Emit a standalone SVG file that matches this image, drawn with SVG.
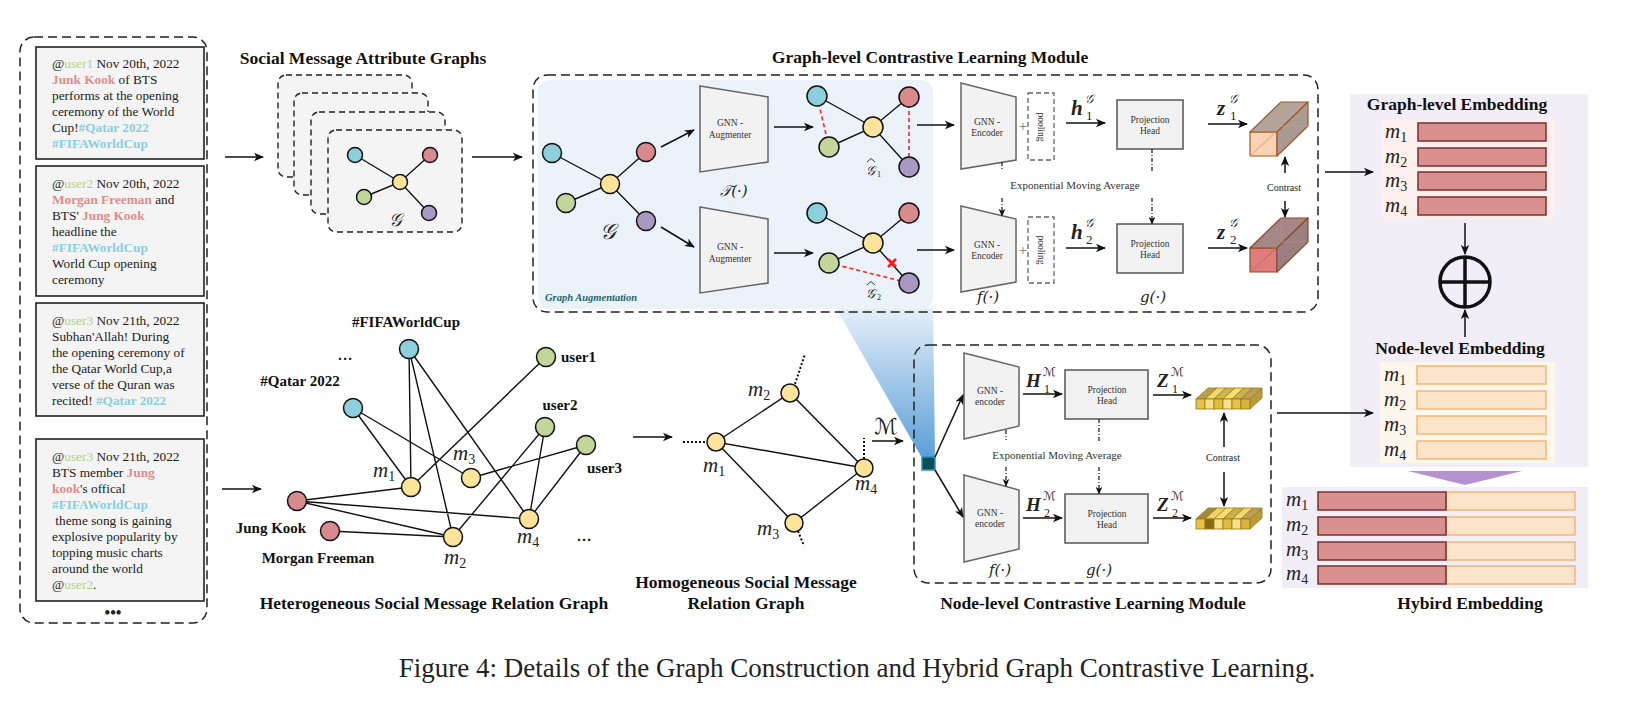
<svg xmlns="http://www.w3.org/2000/svg" width="1648" height="703" viewBox="0 0 1648 703">
<style>
.t{font-family:"Liberation Serif","Times New Roman",serif;fill:#222}
.tw{font-family:"Liberation Serif","Times New Roman",serif;font-size:13.3px;fill:#222}
.u{fill:#b6cf8d}
.p{fill:#e08c8c;font-weight:bold}
.h{fill:#8acfe0;font-weight:bold}
.ttl{font-family:"Liberation Serif","Times New Roman",serif;font-size:17.5px;font-weight:bold;fill:#111}
.lb{font-family:"Liberation Serif","Times New Roman",serif;font-size:15px;font-weight:bold;fill:#111}
.sm{font-family:"Liberation Serif","Times New Roman",serif;font-size:9.5px;fill:#333}
.ema{font-family:"Liberation Serif","Times New Roman",serif;font-size:11px;fill:#333}
.mi{font-family:"Liberation Serif","Times New Roman",serif;font-style:italic;font-size:21px;fill:#222}
.scr{font-family:"DejaVu Serif","DejaVu Sans","Noto Sans",serif;fill:#222}
.box{fill:#f4f4f4;stroke:#222;stroke-width:1.6}
.dsh{fill:none;stroke:#222;stroke-width:1.5;stroke-dasharray:9 5}
.card{fill:#f4f4f4;stroke:#222;stroke-width:1.4;stroke-dasharray:6 4}
.e{stroke:#111;stroke-width:1.4;fill:none}
.rd{stroke:#ff2020;stroke-width:1.6;stroke-dasharray:4 3;fill:none}
.n{stroke:#111;stroke-width:1.5}
.cb{fill:#8ecfdc}.cr{fill:#d98a8e}.cy{fill:#fde49a}.cg{fill:#c2d69b}.cp{fill:#a899c2}
.trap{fill:#f2f2f2;stroke:#666;stroke-width:1.5}
.ph{fill:#f2f2f2;stroke:#555;stroke-width:1.5}
.pool{fill:none;stroke:#666;stroke-width:1.3;stroke-dasharray:5 3}
.a{stroke:#111;stroke-width:1.5;fill:none;marker-end:url(#ah)}
.dd{stroke:#111;stroke-width:1.2;fill:none;stroke-dasharray:4 2 1 2}
.dda{stroke:#111;stroke-width:1.2;fill:none;stroke-dasharray:4 2 1 2;marker-end:url(#ahs)}
.gb{fill:#d9918f;stroke:#7b2e2e;stroke-width:1.5}
.nb{fill:#fce4ca;stroke:#f4b678;stroke-width:1.5}
.dot{stroke:#111;stroke-width:2;stroke-dasharray:2 2;fill:none}
.hat{stroke:#222;stroke-width:0.9;fill:none}
</style>
<defs>
<marker id="ah" viewBox="0 0 10 10" refX="9" refY="5" markerWidth="10" markerHeight="10" markerUnits="userSpaceOnUse" orient="auto">
<path d="M0,0.8 L10,5 L0,9.2 L2.6,5 z" fill="#111"/>
</marker>
<marker id="ahs" viewBox="0 0 10 10" refX="9" refY="5" markerWidth="8" markerHeight="8" markerUnits="userSpaceOnUse" orient="auto">
<path d="M0,0.8 L10,5 L0,9.2 L2.6,5 z" fill="#111"/>
</marker>
<linearGradient id="wedge" x1="0" y1="0" x2="0" y2="1">
<stop offset="0" stop-color="#e6eff9"/>
<stop offset="1" stop-color="#5a9fd8"/>
</linearGradient>
</defs>
<rect width="1648" height="703" fill="#ffffff"/>

<!-- Left panel of tweets -->
<g id="tweets">
<rect class="dsh" x="20" y="37" width="187" height="586" rx="14"/>
<rect class="box" x="36" y="47" width="168" height="112"/>
<text class="tw" x="52" y="68">@<tspan class="u">user1</tspan> Nov 20th, 2022</text>
<text class="tw" x="52" y="84"><tspan class="p">Junk Kook</tspan> of BTS</text>
<text class="tw" x="52" y="100">performs at the opening</text>
<text class="tw" x="52" y="116">ceremony of the World</text>
<text class="tw" x="52" y="132">Cup!<tspan class="h">#Qatar 2022</tspan></text>
<text class="tw" x="52" y="148"><tspan class="h">#FIFAWorldCup</tspan></text>

<rect class="box" x="36" y="166" width="168" height="130"/>
<text class="tw" x="52" y="188">@<tspan class="u">user2</tspan> Nov 20th, 2022</text>
<text class="tw" x="52" y="204"><tspan class="p">Morgan Freeman</tspan> and</text>
<text class="tw" x="52" y="220">BTS' <tspan class="p">Jung Kook</tspan></text>
<text class="tw" x="52" y="236">headline the</text>
<text class="tw" x="52" y="252"><tspan class="h">#FIFAWorldCup</tspan></text>
<text class="tw" x="52" y="268">World Cup opening</text>
<text class="tw" x="52" y="284">ceremony</text>

<rect class="box" x="36" y="303" width="168" height="113"/>
<text class="tw" x="52" y="325">@<tspan class="u">user3</tspan> Nov 21th, 2022</text>
<text class="tw" x="52" y="341">Subhan'Allah! During</text>
<text class="tw" x="52" y="357">the opening ceremony of</text>
<text class="tw" x="52" y="373">the Qatar World Cup,a</text>
<text class="tw" x="52" y="389">verse of the Quran was</text>
<text class="tw" x="52" y="405">recited! <tspan class="h">#Qatar 2022</tspan></text>

<rect class="box" x="36" y="439" width="168" height="162"/>
<text class="tw" x="52" y="461">@<tspan class="u">user3</tspan> Nov 21th, 2022</text>
<text class="tw" x="52" y="477">BTS member <tspan class="p">Jung</tspan></text>
<text class="tw" x="52" y="493"><tspan class="p">kook</tspan>'s offical</text>
<text class="tw" x="52" y="509"><tspan class="h">#FIFAWorldCup</tspan></text>
<text class="tw" x="52" y="525" xml:space="preserve"> theme song is gaining</text>
<text class="tw" x="52" y="541">explosive popularity by</text>
<text class="tw" x="52" y="557">topping music charts</text>
<text class="tw" x="52" y="573">around the world</text>
<text class="tw" x="52" y="589">@<tspan class="u">user2</tspan>.</text>
<text class="t" x="113" y="618" text-anchor="middle" font-size="16" font-weight="bold">•••</text>
</g>

<!-- Social message attribute graphs -->
<g id="attribute-graphs">
<text class="ttl" x="363" y="64" text-anchor="middle">Social Message Attribute Graphs</text>
<rect class="card" x="278" y="75" width="134" height="102" rx="8"/>
<rect class="card" x="294" y="93" width="134" height="102" rx="8"/>
<rect class="card" x="311" y="112" width="134" height="102" rx="8"/>
<rect class="card" x="328" y="130" width="134" height="102" rx="8"/>
<path class="e" d="M355,155 L400,182 L430,155 M364,197 L400,182 L429,213"/>
<circle class="n cb" cx="355" cy="155" r="7.5"/>
<circle class="n cr" cx="430" cy="155" r="7.5"/>
<circle class="n cg" cx="364" cy="197" r="7.5"/>
<circle class="n cp" cx="429" cy="213" r="7.5"/>
<circle class="n cy" cx="400" cy="182" r="7.5"/>
<text class="scr" x="395" y="226" text-anchor="middle" font-size="18" font-style="italic">𝒢</text>
</g>

<!-- Graph-level contrastive learning module -->
<g id="graph-level-module">
<text class="ttl" x="930" y="63" text-anchor="middle">Graph-level Contrastive Learning Module</text>
<polygon points="836,308 933,308 935,458 922,458" fill="url(#wedge)"/>
<rect x="538" y="80" width="395" height="229" rx="12" fill="#ebf2fa"/>
<rect class="dsh" x="533" y="75" width="785" height="237" rx="14"/>
<text x="545" y="301" font-family="Liberation Serif, serif" font-size="10.5" font-style="italic" font-weight="bold" fill="#1d6470">Graph Augmentation</text>
</g>

<g id="input-graph">
<path class="e" d="M552,153 L610,184 L646,152 M566,203 L610,184 L646,221"/>
<circle class="n cb" cx="552" cy="153" r="9.5"/>
<circle class="n cr" cx="646" cy="152" r="9.5"/>
<circle class="n cg" cx="566" cy="203" r="9.5"/>
<circle class="n cp" cx="646" cy="221" r="9.5"/>
<circle class="n cy" cx="610" cy="184" r="9.5"/>
<text class="scr" x="608" y="239" text-anchor="middle" font-size="22" font-style="italic">𝒢</text>
</g>

<g id="augmenter-1">
<polygon class="trap" points="700,86 768,97 768,162 700,172"/>
<text class="sm" x="730" y="126" text-anchor="middle">GNN -</text>
<text class="sm" x="730" y="138" text-anchor="middle">Augmenter</text>
</g>
<g id="augmenter-2">
<polygon class="trap" points="700,207 768,219 768,283 700,293"/>
<text class="sm" x="730" y="250" text-anchor="middle">GNN -</text>
<text class="sm" x="730" y="262" text-anchor="middle">Augmenter</text>
</g>
<text class="scr" x="734" y="196" text-anchor="middle" font-size="15" font-style="italic">𝒯(·)</text>

<g id="aug-graph-1">
<path class="e" d="M817,96 L873,127 L909,97 M829,147 L873,127 L909,167"/>
<path class="rd" d="M817,96 L829,147 M909,97 L909,167"/>
<circle class="n cb" cx="817" cy="96" r="10"/>
<circle class="n cr" cx="909" cy="97" r="10"/>
<circle class="n cg" cx="829" cy="147" r="10"/>
<circle class="n cp" cx="909" cy="167" r="10"/>
<circle class="n cy" cx="873" cy="127" r="10"/>
<text class="scr" x="870" y="175" text-anchor="middle" font-size="13" font-style="italic">𝒢</text>
<path class="hat" d="M867,162 L871,158.5 L875,162"/>
<text class="t" x="877" y="177" font-size="8">1</text>
</g>
<g id="aug-graph-2">
<path class="e" d="M817,213 L873,243 L909,213 M829,263 L873,243 L909,283"/>
<path class="rd" d="M829,263 L909,283"/>
<path d="M888,259 L896,267 M896,259 L888,267" stroke="#ff1a1a" stroke-width="2.6"/>
<circle class="n cb" cx="817" cy="213" r="10"/>
<circle class="n cr" cx="909" cy="213" r="10"/>
<circle class="n cg" cx="829" cy="263" r="10"/>
<circle class="n cp" cx="909" cy="283" r="10"/>
<circle class="n cy" cx="873" cy="243" r="10"/>
<text class="scr" x="870" y="298" text-anchor="middle" font-size="13" font-style="italic">𝒢</text>
<path class="hat" d="M867,285 L871,281.5 L875,285"/>
<text class="t" x="877" y="300" font-size="8">2</text>
</g>

<g id="encoder-g1">
<polygon class="trap" points="961,83 1016,97 1016,160 961,169"/>
<text class="sm" x="987" y="125" text-anchor="middle">GNN -</text>
<text class="sm" x="987" y="136" text-anchor="middle">Encoder</text>
<text class="t" x="1023" y="131" text-anchor="middle" font-size="15" style="fill:#777">+</text>
<rect class="pool" x="1028" y="93" width="26" height="67"/>
<text class="sm" x="0" y="0" text-anchor="middle" transform="translate(1038,127) rotate(90)">pooling</text>
</g>
<g id="encoder-g2">
<polygon class="trap" points="961,206 1016,219 1016,282 961,292"/>
<text class="sm" x="987" y="248" text-anchor="middle">GNN -</text>
<text class="sm" x="987" y="259" text-anchor="middle">Encoder</text>
<text class="t" x="1023" y="255" text-anchor="middle" font-size="15" style="fill:#777">+</text>
<rect class="pool" x="1028" y="217" width="26" height="66"/>
<text class="sm" x="0" y="0" text-anchor="middle" transform="translate(1038,250) rotate(90)">pooling</text>
</g>
<text class="scr" x="988" y="302" text-anchor="middle" font-size="15" font-style="italic">f(·)</text>
<text class="ema" x="1075" y="189" text-anchor="middle">Exponential Moving Average</text>

<g id="proj-g1">
<rect class="ph" x="1117" y="100" width="66" height="49"/>
<text class="sm" x="1150" y="123" text-anchor="middle">Projection</text>
<text class="sm" x="1150" y="134" text-anchor="middle">Head</text>
</g>
<g id="proj-g2">
<rect class="ph" x="1117" y="224" width="66" height="49"/>
<text class="sm" x="1150" y="247" text-anchor="middle">Projection</text>
<text class="sm" x="1150" y="258" text-anchor="middle">Head</text>
</g>
<text class="scr" x="1153" y="302" text-anchor="middle" font-size="15" font-style="italic">g(·)</text>

<g id="labels-graph-level">
<text class="t" x="1071" y="115" font-size="21" font-weight="bold" font-style="italic">h</text>
<text class="scr" x="1085" y="103" font-size="12" font-style="italic">𝒢</text>
<text class="t" x="1086" y="120" font-size="13">1</text>
<text class="t" x="1071" y="239" font-size="21" font-weight="bold" font-style="italic">h</text>
<text class="scr" x="1085" y="227" font-size="12" font-style="italic">𝒢</text>
<text class="t" x="1086" y="244" font-size="13">2</text>
<text class="t" x="1217" y="115" font-size="21" font-weight="bold" font-style="italic">z</text>
<text class="scr" x="1229" y="103" font-size="12" font-style="italic">𝒢</text>
<text class="t" x="1230" y="120" font-size="13">1</text>
<text class="t" x="1217" y="239" font-size="21" font-weight="bold" font-style="italic">z</text>
<text class="scr" x="1229" y="227" font-size="12" font-style="italic">𝒢</text>
<text class="t" x="1230" y="244" font-size="13">2</text>
<text class="t" x="1284" y="191" text-anchor="middle" font-size="10">Contrast</text>
</g>

<g id="cube-1" stroke="#a0582a" stroke-width="1.2" stroke-linejoin="round">
<polygon points="1250,132 1277,132 1277,156 1250,156" fill="#f9d3b4"/>
<path d="M1250,156 L1277,132" stroke="#e8b48e" stroke-width="0.8"/>
<polygon points="1250,132 1277,132 1308,102 1281,102" fill="#b3a49b"/>
<polygon points="1277,132 1308,102 1308,126 1277,156" fill="#a99a92"/>
<path d="M1250,156 L1281,126 L1308,126 M1281,126 L1281,102" stroke="#c9a58a" stroke-width="0.7" fill="none"/>
</g>
<g id="cube-2" stroke="#8b4a2a" stroke-width="1.2" stroke-linejoin="round">
<polygon points="1250,248 1277,248 1277,272 1250,272" fill="#e07c7c"/>
<path d="M1250,272 L1277,248" stroke="#b85c5c" stroke-width="0.8"/>
<polygon points="1250,248 1277,248 1308,218 1281,218" fill="#a68787"/>
<polygon points="1277,248 1308,218 1308,242 1277,272" fill="#9c7f80"/>
<path d="M1250,272 L1281,242 L1308,242 M1281,242 L1281,218" stroke="#b88a7a" stroke-width="0.7" fill="none"/>
</g>

<!-- Embedding panels -->
<g id="embedding-panel">
<rect x="1350" y="94" width="238" height="373" fill="#f2eef7"/>
<text class="ttl" x="1457" y="110" text-anchor="middle">Graph-level Embedding</text>
<rect x="1381" y="119" width="174" height="100" fill="#fcefee"/>
<rect class="gb" x="1418" y="123" width="128" height="18"/>
<rect class="gb" x="1418" y="148" width="128" height="18"/>
<rect class="gb" x="1418" y="172" width="128" height="18"/>
<rect class="gb" x="1418" y="197" width="128" height="18"/>
<text class="mi" x="1385" y="138">m<tspan font-size="14" font-style="normal" dy="4">1</tspan></text>
<text class="mi" x="1385" y="163">m<tspan font-size="14" font-style="normal" dy="4">2</tspan></text>
<text class="mi" x="1385" y="187">m<tspan font-size="14" font-style="normal" dy="4">3</tspan></text>
<text class="mi" x="1385" y="212">m<tspan font-size="14" font-style="normal" dy="4">4</tspan></text>
<circle cx="1465" cy="282" r="25" fill="none" stroke="#111" stroke-width="3.5"/>
<path d="M1440,282 L1490,282 M1465,257 L1465,307" stroke="#111" stroke-width="3.5"/>
<text class="ttl" x="1460" y="354" text-anchor="middle">Node-level Embedding</text>
<rect x="1380" y="362" width="175" height="101" fill="#fdf6ec"/>
<rect class="nb" x="1417" y="366" width="129" height="18"/>
<rect class="nb" x="1417" y="391" width="129" height="18"/>
<rect class="nb" x="1417" y="416" width="129" height="18"/>
<rect class="nb" x="1417" y="441" width="129" height="18"/>
<text class="mi" x="1384" y="381">m<tspan font-size="14" font-style="normal" dy="4">1</tspan></text>
<text class="mi" x="1384" y="406">m<tspan font-size="14" font-style="normal" dy="4">2</tspan></text>
<text class="mi" x="1384" y="431">m<tspan font-size="14" font-style="normal" dy="4">3</tspan></text>
<text class="mi" x="1384" y="456">m<tspan font-size="14" font-style="normal" dy="4">4</tspan></text>
<polygon points="1408,471 1522,471 1465,485" fill="#b491cf"/>
</g>
<g id="hybrid-embedding">
<rect x="1282" y="487" width="306" height="101" fill="#f2eef7"/>
<rect class="nb" x="1446" y="492" width="129" height="18"/>
<rect class="nb" x="1446" y="517" width="129" height="18"/>
<rect class="nb" x="1446" y="542" width="129" height="18"/>
<rect class="nb" x="1446" y="566" width="129" height="18"/>
<rect class="gb" x="1318" y="492" width="128" height="18"/>
<rect class="gb" x="1318" y="517" width="128" height="18"/>
<rect class="gb" x="1318" y="542" width="128" height="18"/>
<rect class="gb" x="1318" y="566" width="128" height="18"/>
<text class="mi" x="1286" y="506">m<tspan font-size="14" font-style="normal" dy="4">1</tspan></text>
<text class="mi" x="1286" y="531">m<tspan font-size="14" font-style="normal" dy="4">2</tspan></text>
<text class="mi" x="1286" y="556">m<tspan font-size="14" font-style="normal" dy="4">3</tspan></text>
<text class="mi" x="1286" y="580">m<tspan font-size="14" font-style="normal" dy="4">4</tspan></text>
<text class="ttl" x="1470" y="609" text-anchor="middle">Hybird Embedding</text>
</g>

<!-- Heterogeneous graph -->
<g id="hetero-graph">
<path class="e" d="M409,349 L411,487 M409,349 L453,537 M409,349 L529,519 M353,408 L411,487 M353,408 L471,478 M546,357 L411,487 M545,427 L453,537 M545,427 L529,519 M586,445 L471,478 M586,445 L529,519 M297,501 L411,487 M297,501 L453,537 M297,501 L529,519 M330,531 L453,537"/>
<circle class="n cb" cx="409" cy="349" r="9.5"/>
<circle class="n cb" cx="353" cy="408" r="9.5"/>
<circle class="n cg" cx="546" cy="357" r="9.5"/>
<circle class="n cg" cx="545" cy="427" r="9.5"/>
<circle class="n cg" cx="586" cy="445" r="9.5"/>
<circle class="n cy" cx="411" cy="487" r="9.5"/>
<circle class="n cy" cx="471" cy="478" r="9.5"/>
<circle class="n cy" cx="529" cy="519" r="9.5"/>
<circle class="n cy" cx="453" cy="537" r="9.5"/>
<circle class="n cr" cx="297" cy="501" r="9.5"/>
<circle class="n cr" cx="330" cy="531" r="9.5"/>
<text class="lb" x="406" y="327" text-anchor="middle">#FIFAWorldCup</text>
<text class="lb" x="345" y="360" text-anchor="middle">…</text>
<text class="lb" x="300" y="386" text-anchor="middle">#Qatar 2022</text>
<text class="lb" x="561" y="362">user1</text>
<text class="lb" x="560" y="410" text-anchor="middle">user2</text>
<text class="lb" x="587" y="473">user3</text>
<text class="lb" x="271" y="533" text-anchor="middle">Jung Kook</text>
<text class="lb" x="318" y="563" text-anchor="middle">Morgan Freeman</text>
<text class="lb" x="584" y="541" text-anchor="middle">…</text>
<text class="mi" x="373" y="477">m<tspan font-size="14" font-style="normal" dy="4">1</tspan></text>
<text class="mi" x="453" y="460">m<tspan font-size="14" font-style="normal" dy="4">3</tspan></text>
<text class="mi" x="517" y="543">m<tspan font-size="14" font-style="normal" dy="4">4</tspan></text>
<text class="mi" x="444" y="564">m<tspan font-size="14" font-style="normal" dy="4">2</tspan></text>
<text class="ttl" x="434" y="609" text-anchor="middle">Heterogeneous Social Message Relation Graph</text>
</g>

<!-- Homogeneous graph -->
<g id="homo-graph">
<path class="e" d="M716,442 L790,393 L864,468 L794,523 L716,442 L864,468"/>
<path class="dot" d="M683,442 L707,442 M795,384 L805,354 M798,531 L804,546 M864,459 L864,438"/>
<circle class="n cy" cx="716" cy="442" r="9"/>
<circle class="n cy" cx="790" cy="393" r="9"/>
<circle class="n cy" cx="794" cy="523" r="9"/>
<circle class="n cy" cx="864" cy="468" r="9"/>
<text class="mi" x="748" y="396">m<tspan font-size="14" font-style="normal" dy="4">2</tspan></text>
<text class="mi" x="703" y="472">m<tspan font-size="14" font-style="normal" dy="4">1</tspan></text>
<text class="mi" x="757" y="535">m<tspan font-size="14" font-style="normal" dy="4">3</tspan></text>
<text class="mi" x="855" y="490">m<tspan font-size="14" font-style="normal" dy="4">4</tspan></text>
<text class="ttl" x="746" y="588" text-anchor="middle">Homogeneous Social Message</text>
<text class="ttl" x="746" y="609" text-anchor="middle">Relation Graph</text>
<text class="scr" x="874" y="434" font-size="22" font-style="italic">ℳ</text>
</g>

<!-- Node-level contrastive learning module -->
<g id="node-level-module">
<rect class="dsh" x="914" y="345" width="357" height="238" rx="14"/>
<rect x="922" y="457" width="13" height="13" fill="#0b4f55" stroke="#2d8fd5" stroke-width="1.5"/>
<text class="ttl" x="1093" y="609" text-anchor="middle">Node-level Contrastive Learning Module</text>
</g>
<g id="encoder-n1">
<polygon class="trap" points="964,353 1019,367 1019,426 964,439"/>
<text class="sm" x="990" y="394" text-anchor="middle">GNN -</text>
<text class="sm" x="990" y="405" text-anchor="middle">encoder</text>
</g>
<g id="encoder-n2">
<polygon class="trap" points="964,475 1019,490 1019,549 964,562"/>
<text class="sm" x="990" y="516" text-anchor="middle">GNN -</text>
<text class="sm" x="990" y="527" text-anchor="middle">encoder</text>
</g>
<g id="proj-n1">
<rect class="ph" x="1065" y="370" width="83" height="49"/>
<text class="sm" x="1107" y="393" text-anchor="middle">Projection</text>
<text class="sm" x="1107" y="404" text-anchor="middle">Head</text>
</g>
<g id="proj-n2">
<rect class="ph" x="1065" y="494" width="83" height="49"/>
<text class="sm" x="1107" y="517" text-anchor="middle">Projection</text>
<text class="sm" x="1107" y="528" text-anchor="middle">Head</text>
</g>
<text class="ema" x="1057" y="459" text-anchor="middle">Exponential Moving Average</text>
<text class="scr" x="1000" y="575" text-anchor="middle" font-size="15" font-style="italic">f(·)</text>
<text class="scr" x="1099" y="575" text-anchor="middle" font-size="15" font-style="italic">g(·)</text>
<g id="labels-node-level">
<text class="t" x="1026" y="387" font-size="19" font-weight="bold" font-style="italic">H</text>
<text class="scr" x="1043" y="376" font-size="12" font-style="italic">ℳ</text>
<text class="t" x="1044" y="393" font-size="12">1</text>
<text class="t" x="1026" y="511" font-size="19" font-weight="bold" font-style="italic">H</text>
<text class="scr" x="1043" y="500" font-size="12" font-style="italic">ℳ</text>
<text class="t" x="1044" y="517" font-size="12">2</text>
<text class="t" x="1157" y="387" font-size="19" font-weight="bold" font-style="italic">Z</text>
<text class="scr" x="1171" y="376" font-size="12" font-style="italic">ℳ</text>
<text class="t" x="1172" y="393" font-size="12">1</text>
<text class="t" x="1157" y="511" font-size="19" font-weight="bold" font-style="italic">Z</text>
<text class="scr" x="1171" y="500" font-size="12" font-style="italic">ℳ</text>
<text class="t" x="1172" y="517" font-size="12">2</text>
<text class="t" x="1223" y="461" text-anchor="middle" font-size="10">Contrast</text>
</g>
<g id="cuboid-1" stroke="#9a7b10" stroke-width="0.8">
<polygon points="1196,399 1205,399 1217,388 1208,388" fill="#b9a04a"/>
<polygon points="1205,399 1214,399 1226,388 1217,388" fill="#f0d96e"/>
<polygon points="1214,399 1223,399 1235,388 1226,388" fill="#cdb455"/>
<polygon points="1223,399 1232,399 1244,388 1235,388" fill="#f5df72"/>
<polygon points="1232,399 1241,399 1253,388 1244,388" fill="#c9b050"/>
<polygon points="1241,399 1250,399 1262,388 1253,388" fill="#b8a060"/>
<rect x="1196" y="399" width="9" height="10" fill="#e6c24a"/>
<rect x="1205" y="399" width="9" height="10" fill="#f5e08a"/>
<rect x="1214" y="399" width="9" height="10" fill="#e0bb40"/>
<rect x="1223" y="399" width="9" height="10" fill="#f5e08a"/>
<rect x="1232" y="399" width="9" height="10" fill="#e6c24a"/>
<rect x="1241" y="399" width="9" height="10" fill="#d9b440"/>
<polygon points="1250,399 1262,388 1262,398 1250,409" fill="#b89a3a"/>
</g>
<g id="cuboid-2" stroke="#9a7b10" stroke-width="0.8">
<polygon points="1196,519 1205,519 1217,508 1208,508" fill="#a08a3a"/>
<polygon points="1205,519 1214,519 1226,508 1217,508" fill="#ecd46a"/>
<polygon points="1214,519 1223,519 1235,508 1226,508" fill="#f5df72"/>
<polygon points="1223,519 1232,519 1244,508 1235,508" fill="#c9b050"/>
<polygon points="1232,519 1241,519 1253,508 1244,508" fill="#f0d96e"/>
<polygon points="1241,519 1250,519 1262,508 1253,508" fill="#b8a060"/>
<rect x="1196" y="519" width="9" height="10" fill="#e6c24a"/>
<rect x="1205" y="519" width="9" height="10" fill="#8a6a10"/>
<rect x="1214" y="519" width="9" height="10" fill="#f5e08a"/>
<rect x="1223" y="519" width="9" height="10" fill="#e0bb40"/>
<rect x="1232" y="519" width="9" height="10" fill="#f5e08a"/>
<rect x="1241" y="519" width="9" height="10" fill="#d9b440"/>
<polygon points="1250,519 1262,508 1262,518 1250,529" fill="#b89a3a"/>
</g>

<!-- Connectors -->
<g id="connectors">
<path class="a" d="M225,157 L263,157"/>
<path class="a" d="M222,489 L261,489"/>
<path class="a" d="M472,157 L522,157"/>
<path class="a" d="M661,147 L694,130"/>
<path class="a" d="M661,227 L694,247"/>
<path class="a" d="M774,127 L813,127"/>
<path class="a" d="M774,253 L813,253"/>
<path class="a" d="M917,125 L954,125"/>
<path class="a" d="M917,250 L954,250"/>
<path class="a" d="M1066,123 L1105,123"/>
<path class="a" d="M1066,248 L1105,248"/>
<path class="a" d="M1208,124 L1247,124"/>
<path class="a" d="M1208,248 L1247,248"/>
<path class="a" d="M1285,173 L1285,157"/>
<path class="a" d="M1285,201 L1285,217"/>
<path class="a" d="M1325,172 L1373,172"/>
<path class="a" d="M1465,223 L1465,254"/>
<path class="a" d="M1465,337 L1465,310"/>
<path class="a" d="M633,437 L672,437"/>
<path class="a" d="M872,441 L903,441"/>
<path class="a" d="M935,457 L963,395"/>
<path class="a" d="M935,470 L963,517"/>
<path class="a" d="M1023,394 L1062,394"/>
<path class="a" d="M1023,518 L1062,518"/>
<path class="a" d="M1153,395 L1191,395"/>
<path class="a" d="M1153,518 L1191,518"/>
<path class="a" d="M1224,447 L1224,413"/>
<path class="a" d="M1224,472 L1224,506"/>
<path class="a" d="M1277,413 L1373,413"/>
<path class="dd" d="M1002,162 L1002,170"/>
<path class="dda" d="M1002,198 L1002,216"/>
<path class="dd" d="M1152,149 L1152,172"/>
<path class="dda" d="M1152,198 L1152,224"/>
<path class="dd" d="M1006,430 L1006,440"/>
<path class="dda" d="M1006,467 L1006,486"/>
<path class="dd" d="M1099,419 L1099,442"/>
<path class="dda" d="M1099,467 L1099,494"/>
</g>

<text class="t" x="857" y="677" text-anchor="middle" font-size="27">Figure 4: Details of the Graph Construction and Hybrid Graph Contrastive Learning.</text>
</svg>
